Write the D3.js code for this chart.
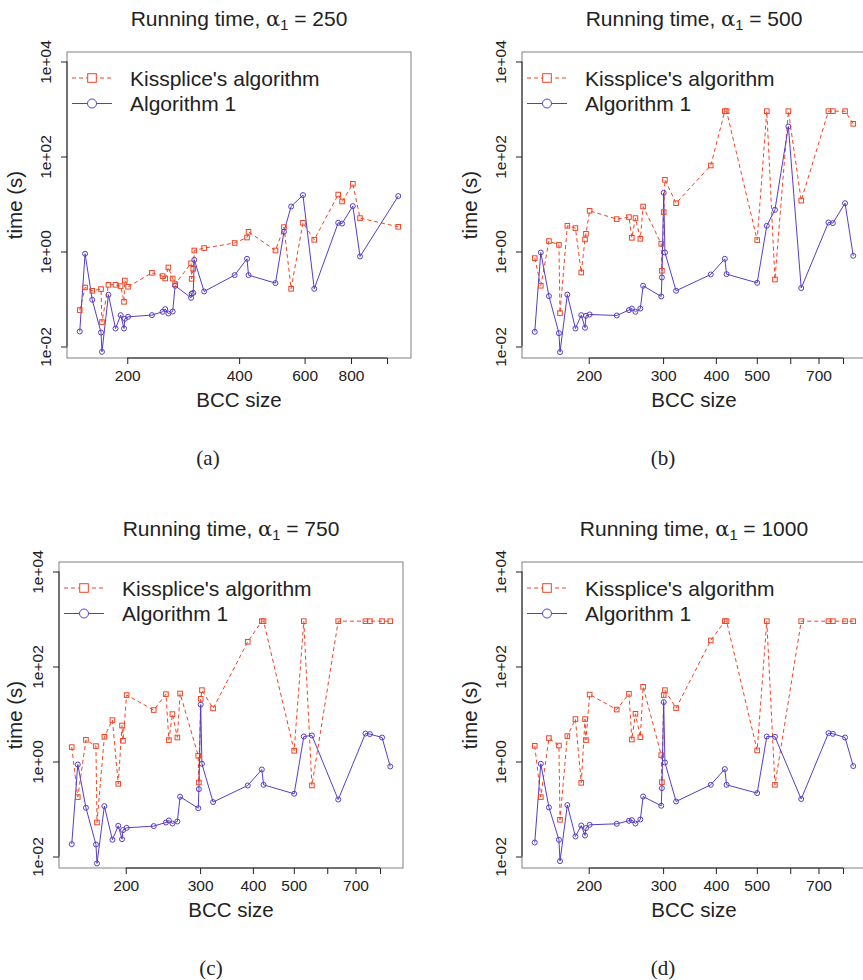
<!DOCTYPE html>
<html><head><meta charset="utf-8">
<script src="https://cdn.jsdelivr.net/npm/d3@7"></script>
<style>body{margin:0;background:#fff} svg{display:block}</style>
</head><body>
<svg id="chart" width="863" height="980"></svg>
<script>
// BCC sizes (shared x values)
const bccSize = [149,154,161,170,171,178,186,192,196,197,201,233,249,253,258,265,269,297,298,301,303,322,389,420,424,501,528,552,594,637,739,757,809,846,1072];

// running times in seconds; null = not present in that panel
const kissA = [0.0584,0.175,0.149,0.162,0.0326,0.199,0.199,0.187,0.0873,0.245,0.181,0.356,0.303,0.270,0.461,0.270,0.206,0.565,0.266,0.432,1.05,1.18,1.51,1.97,2.60,1.05,3.26,0.164,4.02,1.76,15.8,11.3,26.6,5.05,3.31];
const alg1A = [0.0207,0.895,0.0962,0.0197,0.00773,0.123,0.0239,0.0458,0.0239,0.0383,0.0422,0.0458,0.0538,0.0613,0.0495,0.0546,0.190,0.106,0.129,0.135,0.668,0.144,0.318,0.702,0.318,0.216,2.60,8.86,15.4,0.164,4.02,3.88,9.03,0.785,14.7];

const kissB = [0.726,0.190,1.66,1.38,0.0505,3.48,3.11,0.361,1.79,2.36,7.19,4.81,5.30,1.94,5.05,1.85,8.86,1.45,0.393,6.75,32.3,10.4,64.7,900,900,1.74,900,0.257,900,11.8,900,900,900,488,null];
const alg1B = [0.0204,0.953,0.115,0.0191,0.00762,0.124,0.0239,0.0458,0.0248,0.0443,0.0472,0.045,0.0584,0.063,0.0538,0.063,0.19,0.113,0.284,17.2,0.953,0.149,0.328,0.702,0.334,0.219,3.48,7.55,428,0.170,4.08,3.96,10.4,0.812,null];

const kissC = [2.01,0.178,2.86,2.11,0.052,3.31,7.44,0.339,5.73,2.73,25.0,12.1,26.2,2.82,9.95,3.20,27.0,1.32,0.361,20.9,31.8,13.1,331,900,900,1.68,900,0.313,null,900,900,900,900,900,null];
const alg1C = [0.0182,0.865,0.106,0.0179,0.00713,0.115,0.0225,0.0443,0.0232,0.036,0.0402,0.0437,0.052,0.0573,0.0495,0.0546,0.181,0.104,0.262,15.8,0.895,0.14,0.313,0.679,0.323,0.209,3.36,3.53,null,0.158,3.88,3.78,3.20,0.785,null];

const kissD = [2.14,0.178,3.11,2.17,0.0593,3.43,7.81,0.356,7.81,2.82,25.7,12.4,26.6,2.90,10.1,3.26,37.4,1.36,0.368,25.0,31.8,13.3,353,900,900,1.71,900,0.323,null,900,900,900,900,900,null];
const alg1D = [0.0197,0.895,0.108,0.0225,0.008,0.121,0.0264,0.045,0.0277,0.0396,0.0465,0.0488,0.0565,0.0584,0.0495,0.0601,0.183,0.117,0.275,17.8,0.953,0.144,0.323,0.692,0.323,0.216,3.36,3.31,null,0.162,3.96,3.83,3.20,0.80,null];

const alphaValues = [250, 500, 750, 1000];
const panelLabels = ["(a)", "(b)", "(c)", "(d)"];
const seriesNames = ["Kissplice's algorithm", "Algorithm 1"];
const yTicks = [1e-2, 1, 1e2, 1e4];
const yTickLabels = ["1e-02", "1e+00", "1e+02", "1e+04"];
const xTicksA = [200, 400, 600, 800, 1000];
const xLabelsA = [200, 400, 600, 800];
const xTicksB = [200, 300, 400, 500, 600, 700, 800];
const xLabelsB = [200, 300, 400, 500, 700];

const kissSeries = [kissA, kissB, kissC, kissD];
const algSeries = [alg1A, alg1B, alg1C, alg1D];
const xTickSets = [[xTicksA, xLabelsA], [xTicksB, xLabelsB], [xTicksB, xLabelsB], [xTicksB, xLabelsB]];

// layout
const boxes = [
  {L: 67, T: 52, ylabX: 22, capX: 208},
  {L: 522, T: 52, ylabX: 477, capX: 663},
  {L: 59, T: 562, ylabX: 22, capX: 211},
  {L: 522, T: 562, ylabX: 477, capX: 663}
];
const W = 344, H = 306;
const RED = "#ef4526", PURPLE = "#5a3cc2", INK = "#222";
const FONT = "'Liberation Sans', Arial, Helvetica, sans-serif";

const svg = d3.select("#chart");

boxes.forEach((b, p) => {
  const g = svg.append("g");
  const kiss = kissSeries[p], alg = algSeries[p];
  const kPts = bccSize.map((x, i) => ({x, v: kiss[i]})).filter(d => d.v != null);
  const aPts = bccSize.map((x, i) => ({x, v: alg[i]})).filter(d => d.v != null);
  const allX = kPts.concat(aPts).map(d => d.x);
  const lo = Math.log10(d3.min(allX)), hi = Math.log10(d3.max(allX)), r = hi - lo;
  const x = d3.scaleLog().domain([10 ** (lo - 0.04 * r), 10 ** (hi + 0.04 * r)]).range([b.L, b.L + W]);
  const y = d3.scaleLog().domain([10 ** -2.242, 10 ** 4.2]).range([b.T + H, b.T]);

  // frame
  g.append("rect").attr("x", b.L).attr("y", b.T).attr("width", W).attr("height", H)
    .attr("fill", "none").attr("stroke", "#808080").attr("stroke-width", 1);

  // x axis
  const [xt, xl] = xTickSets[p];
  const xa = g.append("g").attr("transform", `translate(0,${b.T + H})`)
    .call(d3.axisBottom(x).tickValues(xt).tickFormat(d => xl.includes(d) ? d : "").tickSize(6).tickPadding(4));
  xa.select(".domain").remove();
  xa.append("line").attr("x1", x(xt[0])).attr("x2", x(xt[xt.length - 1])).attr("stroke", INK);
  xa.selectAll(".tick line").attr("stroke", INK);
  xa.selectAll(".tick text").attr("fill", INK).attr("font-family", FONT).attr("font-size", 15.5)
    .attr("dy", null).attr("y", 23);

  // y axis
  const ya = g.append("g").attr("transform", `translate(${b.L},0)`)
    .call(d3.axisLeft(y).tickValues(yTicks).tickFormat((d, i) => yTickLabels[i]).tickSize(6));
  ya.select(".domain").remove();
  ya.append("line").attr("y1", y(yTicks[0])).attr("y2", y(yTicks[yTicks.length - 1])).attr("stroke", INK);
  ya.selectAll(".tick line").attr("stroke", INK);
  ya.selectAll(".tick text").attr("fill", INK).attr("font-family", FONT).attr("font-size", 15.5)
    .attr("x", null).attr("dy", null).attr("text-anchor", "middle")
    .attr("transform", "translate(-16,0) rotate(-90)");

  // lines
  const line = d3.line().x(d => x(d.x)).y(d => y(d.v));
  g.append("path").datum(kPts).attr("d", line).attr("fill", "none").attr("stroke", RED)
    .attr("stroke-width", 1).attr("stroke-dasharray", "4,3");
  g.append("path").datum(aPts).attr("d", line).attr("fill", "none").attr("stroke", PURPLE)
    .attr("stroke-width", 1);
  const s = 4.6;
  g.selectAll(".sq").data(kPts).enter().append("rect")
    .attr("x", d => x(d.x) - s / 2).attr("y", d => y(d.v) - s / 2).attr("width", s).attr("height", s)
    .attr("fill", "none").attr("stroke", RED).attr("stroke-width", 1);
  g.selectAll(".ci").data(aPts).enter().append("circle")
    .attr("cx", d => x(d.x)).attr("cy", d => y(d.v)).attr("r", 2.5)
    .attr("fill", "none").attr("stroke", PURPLE).attr("stroke-width", 1);

  // legend
  const ly1 = b.T + 26, ly2 = b.T + 51.5, lx0 = b.L + 5, lx1 = b.L + 45, lxm = b.L + 25;
  g.append("line").attr("x1", lx0).attr("x2", lx1).attr("y1", ly1).attr("y2", ly1)
    .attr("stroke", RED).attr("stroke-dasharray", "4,3");
  g.append("rect").attr("x", lxm - 4.3).attr("y", ly1 - 4.3).attr("width", 8.6).attr("height", 8.6)
    .attr("fill", "#fff").attr("stroke", RED);
  g.append("line").attr("x1", lx0).attr("x2", lx1).attr("y1", ly2).attr("y2", ly2).attr("stroke", PURPLE);
  g.append("circle").attr("cx", lxm).attr("cy", ly2).attr("r", 4.5).attr("fill", "#fff").attr("stroke", PURPLE);
  [ly1, ly2].forEach((ly, i) => {
    g.append("text").attr("x", b.L + 63).attr("y", ly + 7.5).attr("font-family", FONT)
      .attr("font-size", 21).attr("fill", INK).text(seriesNames[i]);
  });

  // title
  const t = g.append("text").attr("x", b.L + W / 2).attr("y", b.T - 26).attr("text-anchor", "middle")
    .attr("font-family", FONT).attr("font-size", 21).attr("fill", INK);
  t.append("tspan").text("Running time, ");
  t.append("tspan").attr("font-family", "'DejaVu Serif', serif").text("α");
  t.append("tspan").attr("font-size", 14.5).attr("dy", 4).text("1");
  t.append("tspan").attr("dy", -4).text(" = " + alphaValues[p]);

  // axis titles
  g.append("text").attr("x", b.L + W / 2).attr("y", b.T + H + 49).attr("text-anchor", "middle")
    .attr("font-family", FONT).attr("font-size", 20.5).attr("fill", INK).text("BCC size");
  g.append("text").attr("transform", `translate(${b.ylabX},${b.T + H / 2}) rotate(-90)`)
    .attr("text-anchor", "middle").attr("font-family", FONT).attr("font-size", 20.5).attr("fill", INK)
    .text("time (s)");

  // panel caption
  g.append("text").attr("x", b.capX).attr("y", b.T + H + 107).attr("text-anchor", "middle")
    .attr("font-family", "'Liberation Serif', 'DejaVu Serif', serif").attr("font-size", 21).attr("fill", INK)
    .text(panelLabels[p]);
});
</script>
</body></html>
